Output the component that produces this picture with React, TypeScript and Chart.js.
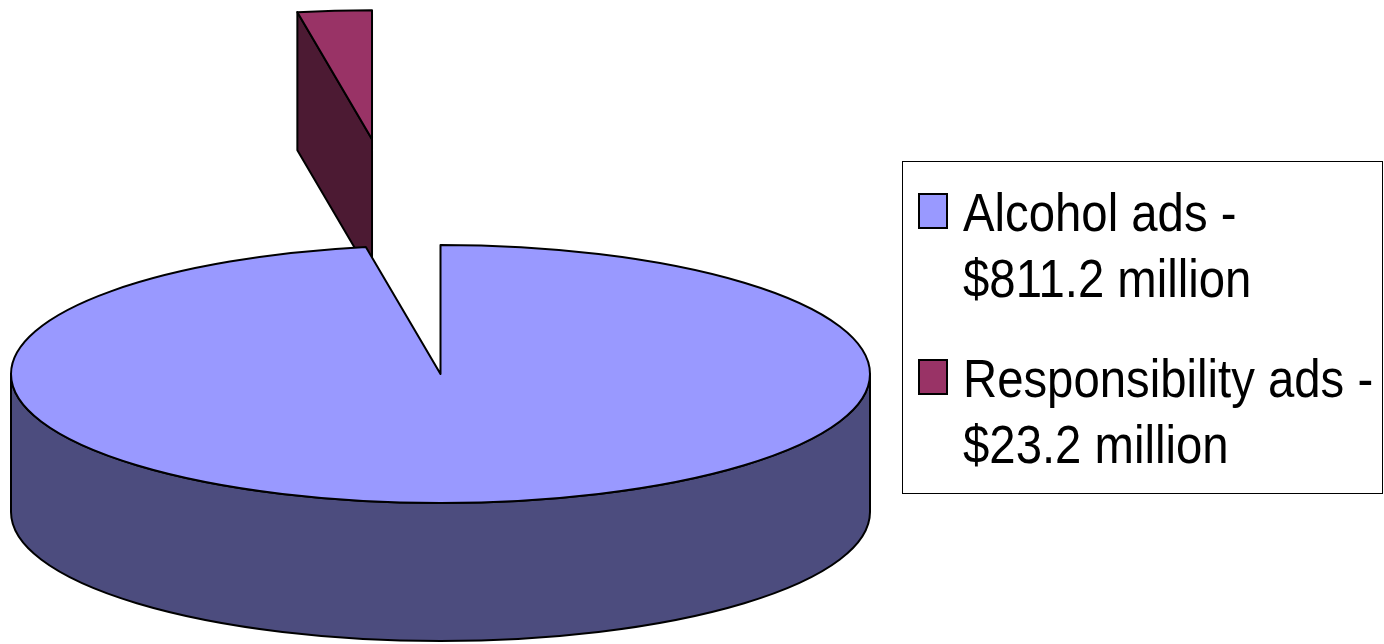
import React, { useEffect, useRef } from 'react';
import { Chart, registerables } from 'chart.js';

Chart.register(...registerables);

// ---- data ----
const categories = ['Alcohol ads', 'Responsibility ads'];
const spendMillions = [811.2, 23.2];

// ---- 3D pie plugin: draws the arcs computed by Chart.js as an extruded, tilted pie ----
const pie3d = {
  id: 'pie3d',
  beforeDatasetsDraw(chart: any, _args: any, opts: any) {
    const ctx = chart.ctx as CanvasRenderingContext2D;
    const meta = chart.getDatasetMeta(0);
    const ds = chart.data.datasets[0];
    const tilt: number = opts.tilt;
    const depth: number = opts.depth;
    const explode: number[] = opts.explode || [];
    const sides: string[] = opts.sideColors || [];
    const pieces = meta.data.map((arc: any, i: number) => {
      const p = arc.getProps(['x', 'y', 'startAngle', 'endAngle', 'outerRadius'], true);
      const mid = (p.startAngle + p.endAngle) / 2;
      const e = explode[i] || 0;
      return {
        cx: p.x + Math.cos(mid) * e,
        cy: p.y + Math.sin(mid) * e * tilt,
        rx: p.outerRadius,
        ry: p.outerRadius * tilt,
        a0: p.startAngle,
        a1: p.endAngle,
        top: ds.backgroundColor[i],
        side: sides[i],
      };
    }).sort((a: any, b: any) => a.cy - b.cy);

    ctx.save();
    ctx.lineWidth = opts.lineWidth;
    ctx.strokeStyle = opts.lineColor;
    ctx.lineJoin = 'round';
    ctx.lineCap = 'round';
    for (const s of pieces) {
      const pt = (a: number) => [s.cx + s.rx * Math.cos(a), s.cy + s.ry * Math.sin(a)];
      // cut faces
      const face = (a: number) => {
        const [px, py] = pt(a);
        ctx.beginPath();
        ctx.moveTo(s.cx, s.cy);
        ctx.lineTo(px, py);
        ctx.lineTo(px, py + depth);
        ctx.lineTo(s.cx, s.cy + depth);
        ctx.closePath();
        ctx.fillStyle = s.side;
        ctx.fill();
        ctx.stroke();
      };
      if (Math.cos(s.a0) < -1e-3) face(s.a0);
      if (Math.cos(s.a1) > 1e-3) face(s.a1);
      // outer wall (front half only)
      for (let k = -1; k <= 1; k++) {
        const lo = Math.max(s.a0, 2 * Math.PI * k);
        const hi = Math.min(s.a1, 2 * Math.PI * k + Math.PI);
        if (hi - lo > 1e-4) {
          ctx.beginPath();
          ctx.ellipse(s.cx, s.cy, s.rx, s.ry, 0, lo, hi, false);
          ctx.ellipse(s.cx, s.cy + depth, s.rx, s.ry, 0, hi, lo, true);
          ctx.closePath();
          ctx.fillStyle = s.side;
          ctx.fill();
          ctx.stroke();
        }
      }
      // top face
      ctx.beginPath();
      ctx.moveTo(s.cx, s.cy);
      ctx.ellipse(s.cx, s.cy, s.rx, s.ry, 0, s.a0, s.a1, false);
      ctx.closePath();
      ctx.fillStyle = s.top;
      ctx.fill();
      ctx.stroke();
    }
    ctx.restore();
    return false;
  },
};

const legendColors = ['#9999FF', '#993366'];

export default function App() {
  const canvasRef = useRef<HTMLCanvasElement | null>(null);

  useEffect(() => {
    document.body.style.margin = '0';
    const canvas = canvasRef.current;
    if (!canvas) return;
    const chart = new Chart(canvas, {
      type: 'pie',
      data: {
        labels: categories,
        datasets: [
          {
            data: spendMillions,
            backgroundColor: legendColors,
            borderColor: '#000000',
            borderWidth: 2,
          },
        ],
      },
      options: {
        responsive: false,
        animation: false,
        radius: 429.5,
        rotation: 0,
        layout: { padding: { left: 0, right: 503, top: 104, bottom: 0 } },
        events: [],
        plugins: {
          legend: { display: false },
          tooltip: { enabled: false },
          title: { display: false },
          pie3d: {
            tilt: 0.3003,
            depth: 138,
            explode: [0, 785],
            sideColors: ['#4C4C7E', '#4C1A33'],
            lineWidth: 2,
            lineColor: '#000000',
          },
        },
      } as any,
      plugins: [pie3d as any],
    });
    return () => chart.destroy();
  }, []);

  const textStyle: React.CSSProperties = {
    position: 'absolute',
    left: 60,
    height: 66,
    lineHeight: '66px',
    fontSize: 54,
    fontFamily: '"Liberation Sans", Arial, sans-serif',
    color: '#000',
    whiteSpace: 'nowrap',
    transform: 'scaleX(0.876)',
    transformOrigin: 'left center',
  };

  return (
    <div style={{ position: 'relative', width: 1384, height: 644, background: '#fff', overflow: 'hidden' }}>
      <canvas ref={canvasRef} width={1384} height={644} style={{ position: 'absolute', left: 0, top: 0 }} />
      <div
        style={{
          position: 'absolute',
          left: 902,
          top: 161,
          width: 481,
          height: 333,
          boxSizing: 'border-box',
          border: '1px solid #000',
          background: '#fff',
        }}
      >
        {categories.map((c, i) => (
          <div key={c} style={{ position: 'absolute', left: 0, top: 17.3 + i * 166, width: 478, height: 140 }}>
            <div
              style={{
                position: 'absolute',
                left: 15,
                top: 13.7,
                width: 30,
                height: 36,
                boxSizing: 'border-box',
                border: '2px solid #000',
                background: legendColors[i],
              }}
            />
            <div style={{ ...textStyle, top: 0 }}>{c} -</div>
            <div style={{ ...textStyle, top: 66 }}>${spendMillions[i].toFixed(1)} million</div>
          </div>
        ))}
      </div>
    </div>
  );
}
